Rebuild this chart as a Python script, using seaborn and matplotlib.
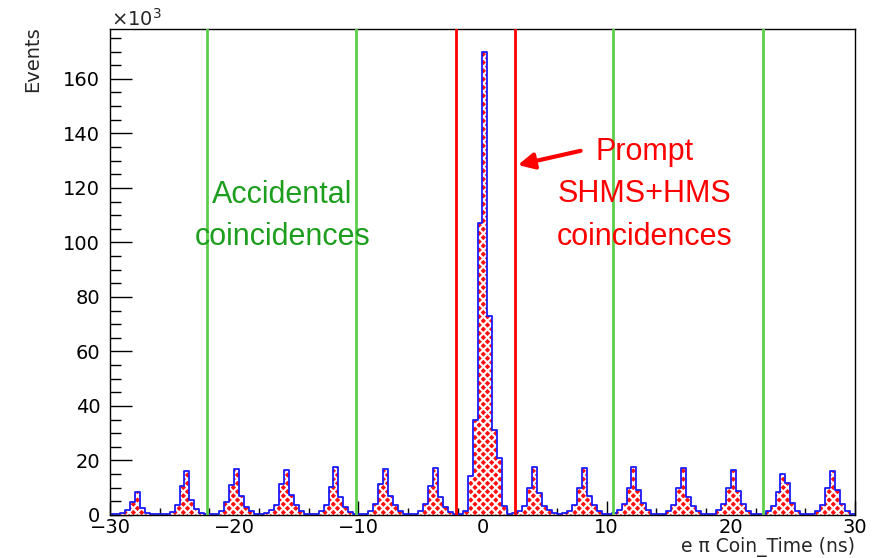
import numpy as np
import pandas as pd
import matplotlib
matplotlib.use("Agg")
import matplotlib.pyplot as plt
from matplotlib import font_manager
from matplotlib.ticker import MultipleLocator
import seaborn as sns

# Coincidence time histogram, 0.4 ns bins from -30 to 30 ns, counts in units of 10^3
x_min, x_max, bin_width = -30.0, 30.0, 0.4

# counts per bin, one row per 4 ns beam bucket (10 bins each)
counts_k = [
    0.2, 0.3, 0.6, 1.8, 4.9, 8.3, 2.6, 0.8, 0.3, 0.2,          # -30 .. -26
    0.2, 0.4, 1.2, 3.8, 10.6, 16.2, 5.6, 2.2, 0.8, 0.3,        # -26 .. -22
    0.2, 0.4, 1.5, 4.6, 11.0, 16.8, 6.8, 3.0, 1.3, 0.4,        # -22 .. -18
    0.3, 0.6, 1.8, 3.8, 11.3, 16.5, 7.3, 3.7, 1.5, 0.4,        # -18 .. -14
    0.3, 0.5, 1.5, 3.8, 10.4, 17.5, 6.7, 3.1, 1.2, 0.4,        # -14 .. -10
    0.3, 0.5, 1.5, 3.9, 11.3, 16.9, 7.1, 3.7, 1.5, 0.4,        # -10 .. -6
    0.3, 0.5, 1.5, 3.9, 10.8, 17.4, 6.7, 3.1, 1.2, 0.4,        #  -6 .. -2
    0.4, 1.5, 14.3, 34.9, 107.0, 170.0, 73.0, 31.0, 20.8, 3.4, #  -2 .. 2
    0.5, 0.6, 1.6, 3.3, 9.8, 17.5, 8.2, 3.3, 1.8, 0.6,         #   2 .. 6
    0.3, 0.6, 1.6, 3.8, 10.0, 17.2, 6.9, 3.5, 1.5, 0.5,        #   6 .. 10
    0.3, 0.6, 1.8, 4.0, 9.8, 17.7, 9.1, 4.3, 1.8, 0.5,         #  10 .. 14
    0.3, 0.5, 1.6, 3.7, 9.8, 17.2, 6.7, 3.4, 1.4, 0.4,         #  14 .. 18
    0.3, 0.5, 1.7, 4.2, 9.8, 16.5, 8.8, 4.1, 1.6, 0.5,         #  18 .. 22
    0.3, 0.4, 1.5, 3.4, 8.6, 14.9, 11.6, 4.3, 1.6, 0.4,        #  22 .. 26
    0.3, 0.4, 1.5, 3.7, 9.8, 16.0, 9.0, 4.0, 1.5, 0.4,         #  26 .. 30
]

# window cuts (ns)
accidental_cuts = [-22.2, -10.2, 10.5, 22.6]
prompt_cuts = [-2.1, 2.6]

x_ticks = [-30, -20, -10, 0, 10, 20, 30]
y_ticks = [0, 20, 40, 60, 80, 100, 120, 140, 160]
y_max = 178.3

sns.set_style("ticks")
plt.rcParams["font.family"] = ["DejaVu Sans"]
plt.rcParams["hatch.linewidth"] = 1.5

available = {f.name for f in font_manager.fontManager.ttflist}
if "Liberation Sans Narrow" in available:
    note_family, note_size = ["Liberation Sans Narrow", "Liberation Sans"], 25
else:
    note_family, note_size = ["Liberation Sans"], 22

n_bins = int(round((x_max - x_min) / bin_width))
edges = np.linspace(x_min, x_max, n_bins + 1)
df = pd.DataFrame({"coin_time": (edges[:-1] + edges[1:]) / 2, "events": counts_k})

fig = plt.figure(figsize=(8.79, 5.58), dpi=100)
ax = fig.add_axes([0.1251, 0.0771, 0.8476, 0.8710])

hist_kw = dict(data=df, x="coin_time", weights="events", bins=n_bins,
               binrange=(x_min, x_max), ax=ax)
# hatched red fill
sns.histplot(element="bars", fill=True, color="#ff1010", edgecolor="white",
             linewidth=0, hatch="xxxx", alpha=1, **hist_kw)
# blue outline
sns.histplot(element="step", fill=False, color="#1a1aff", linewidth=1.3, **hist_kw)

for xc in accidental_cuts:
    ax.axvline(xc, color="#5ccf4a", linewidth=2.0, zorder=3)
for xc in prompt_cuts:
    ax.axvline(xc, color="#ff0000", linewidth=2.0, zorder=3)

ax.set_xlim(x_min, x_max)
ax.set_ylim(0, y_max)
ax.set_xticks(x_ticks)
ax.set_yticks(y_ticks)
ax.xaxis.set_minor_locator(MultipleLocator(2))
ax.yaxis.set_minor_locator(MultipleLocator(5))
ax.tick_params(axis="both", which="both", direction="in", colors="black",
               labelsize=14)
ax.tick_params(axis="y", which="major", length=15.5, width=1, pad=7)
ax.tick_params(axis="y", which="minor", length=7.7, width=1)
ax.tick_params(axis="x", which="major", length=10, width=1, pad=2)
ax.tick_params(axis="x", which="minor", length=5, width=1)
for s in ax.spines.values():
    s.set_visible(True)
    s.set_color("black")
    s.set_linewidth(1.0)
ax.set_xlabel("")
ax.set_ylabel("")

fig.text(33 / 879, 1 - 26 / 558, "Events", rotation=90, ha="center", va="top",
         fontsize=14)
fig.text(855 / 879, 1 - 552 / 558, "e \u03c0 Coin_Time (ns)", ha="right",
         va="baseline", fontsize=13.5)
fig.text(111 / 879, 1 - 26 / 558, r"$\times10^{3}$", ha="left", va="baseline",
         fontsize=14)

# annotations
green = "#1e9e1e"
ax.text(-16.1, 114.5, "Accidental", color=green, ha="center", va="baseline",
        family=note_family, fontsize=note_size)
ax.text(-16.1, 99.1, "coincidences", color=green, ha="center", va="baseline",
        family=note_family, fontsize=note_size)
ax.text(13.05, 130.3, "Prompt", color="red", ha="center", va="baseline",
        family=note_family, fontsize=note_size)
ax.text(13.05, 114.9, "SHMS+HMS", color="red", ha="center", va="baseline",
        family=note_family, fontsize=note_size)
ax.text(13.05, 99.1, "coincidences", color="red", ha="center", va="baseline",
        family=note_family, fontsize=note_size)
ax.annotate("", xy=(2.85, 128.4), xytext=(7.9, 133.6),
            arrowprops=dict(arrowstyle="-|>", color="red", lw=3,
                            mutation_scale=24, shrinkA=0, shrinkB=0))

fig.savefig("out.png", dpi=100)
